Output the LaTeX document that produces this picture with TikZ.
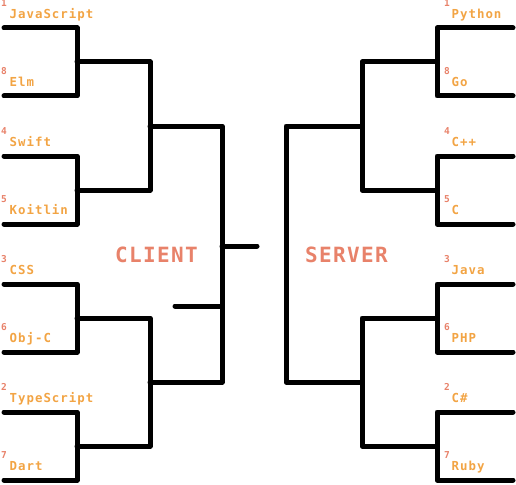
\documentclass[tikz,border=0pt]{standalone}
\usepackage{fontspec}
\newfontfamily\namefont[LetterSpace=8]{DejaVu Sans Mono Bold}
\newfontfamily\seedfont{DejaVu Sans Mono Bold}
\newfontfamily\sidefont[LetterSpace=6.5]{DejaVu Sans Mono Bold}
\definecolor{nameC}{HTML}{F2A444}
\definecolor{seedC}{HTML}{E8826A}
\begin{document}
\begin{tikzpicture}[x=1pt,y=-1pt,
  br/.style={line width=5pt,line cap=round,line join=round},
  nm/.style={anchor=base west,inner sep=0pt,text=nameC,font=\namefont\fontsize{12.4}{13}\selectfont},
  sd/.style={anchor=base west,inner sep=0pt,text=seedC,font=\seedfont\fontsize{9.5}{10}\selectfont},
  side/.style={anchor=base west,inner sep=0pt,text=seedC,font=\sidefont\fontsize{21}{23}\selectfont}]
\useasboundingbox (0,0) rectangle (516,484);
% left bracket
\draw[br] (4,28) -- (77,28) -- (77,96) -- (4,96);
\draw[br] (4,156) -- (77,156) -- (77,224) -- (4,224);
\draw[br] (4,284) -- (77,284) -- (77,352) -- (4,352);
\draw[br] (4,412) -- (77,412) -- (77,480) -- (4,480);
\draw[br] (77,62) -- (150,62) -- (150,190) -- (77,190);
\draw[br] (77,318) -- (150,318) -- (150,446) -- (77,446);
\draw[br] (150,126) -- (222,126) -- (222,382) -- (150,382);
\draw[br] (222,246) -- (257,246);
\draw[br] (175,306) -- (222,306);
% right bracket
\draw[br] (513,28) -- (437,28) -- (437,96) -- (513,96);
\draw[br] (513,156) -- (437,156) -- (437,224) -- (513,224);
\draw[br] (513,284) -- (437,284) -- (437,352) -- (513,352);
\draw[br] (513,412) -- (437,412) -- (437,480) -- (513,480);
\draw[br] (437,62) -- (362,62) -- (362,190) -- (437,190);
\draw[br] (437,318) -- (362,318) -- (362,446) -- (437,446);
\draw[br] (362,126) -- (286,126) -- (286,382) -- (362,382);
% side labels
\node[side] (client) at (115,262.7) {CLIENT};
\node[side] (server) at (305,262.7) {SERVER};
% left labels
\foreach \s/\t/\y [count=\i] in {1/JavaScript/28,8/Elm/96,4/Swift/156,5/Koitlin/224,3/CSS/284,6/Obj-C/352,2/TypeScript/412,7/Dart/480}{
  \node[sd] (ls\i) at (1,\y-21.2) {\s};
  \node[nm] (ln\i) at (9.5,\y-9.7) {\t};
}
% right labels
\foreach \s/\t/\y [count=\i] in {1/Python/28,8/Go/96,4/C++/156,5/C/224,3/Java/284,6/PHP/352,2/C\#/412,7/Ruby/480}{
  \node[sd] (rs\i) at (444,\y-21.2) {\s};
  \node[nm] (rn\i) at (451.5,\y-9.7) {\t};
}
\end{tikzpicture}
\end{document}
